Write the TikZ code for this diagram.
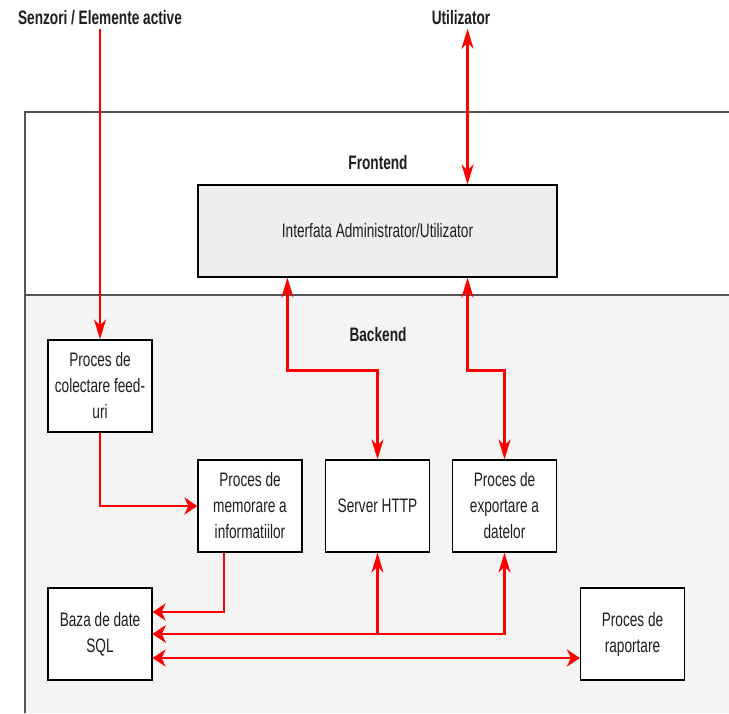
\documentclass[tikz,border=0pt]{standalone}
\usepackage{fontspec}
\setmainfont[FakeStretch=0.7]{Liberation Sans}
\usetikzlibrary{calc, arrows.meta}

\definecolor{linkred}{RGB}{255,0,0}
\definecolor{backgray}{RGB}{244,244,244}
\definecolor{framegray}{RGB}{85,85,85}
\definecolor{boxgray}{RGB}{238,238,238}
\definecolor{textgray}{RGB}{30,30,30}

\tikzset{
  vtip/.tip={Stealth[length=20pt, width=12pt, inset=6pt]},
  htip/.tip={Stealth[length=13pt, width=17pt, inset=4pt]},
  proc/.style={draw, line width=1.2pt, fill=white, minimum width=104pt, minimum height=92pt,
    align=center, text=textgray, font=\fontsize{19.5}{26}\selectfont},
  link/.style={draw=linkred, line width=2.4pt},
  heading/.style={text=textgray, font=\fontsize{19.5}{26}\selectfont\bfseries},
}

\begin{document}
\begin{tikzpicture}[x=1pt, y=-1pt]
    \useasboundingbox (0, 0) rectangle (729, 713);
    % zones
    \fill[white] (0, 0) rectangle (729, 713);
    \fill[backgray] (25, 295) rectangle (729, 713);
    \draw[framegray, line width=1.5pt] (729, 112) -- (25, 112) -- (25, 713);
    \draw[framegray, line width=1.5pt] (25, 295) -- (729, 295);
    \node[heading] (frontend) at (378, 163) {Frontend};
    \node[heading] (backend) at (378, 335) {Backend};
    % outside
    \node[heading] (senzori) at (100, 18) {Senzori / Elemente active};
    \node[heading] (utilizator) at (461, 18) {Utilizator};
    % blocks
    \node[proc, fill=boxgray, minimum width=359pt] (interfata) at (377.5, 231) {Interfata Administrator/Utilizator};
    \node[proc] (colectare) at (100, 386) {Proces de\\colectare feed-\\uri};
    \node[proc] (memorare) at (250, 506) {Proces de\\memorare a\\informatiilor};
    \node[proc] (server) at (377.5, 506) {Server HTTP};
    \node[proc] (export) at (504.5, 506) {Proces de\\exportare a\\datelor};
    \node[proc] (baza) at (100, 634) {Baza de date\\SQL};
    \node[proc] (raport) at (632.5, 634) {Proces de\\raportare};
    \coordinate (userin) at ($(interfata.north west)!0.75!(interfata.north east)$);
    % links
    \draw[link, -vtip] (senzori.south) -- (colectare.north);
    \draw[link, vtip-vtip] (utilizator.south -| userin) -- (userin);
    \draw[link, vtip-vtip] ($(interfata.south west)!0.25!(interfata.south east)$) -- ++(0, 93) -| (server.north);
    \draw[link, vtip-vtip] ($(interfata.south west)!0.75!(interfata.south east)$) -- ++(0, 93) -| (export.north);
    \draw[link, -htip] (colectare.south) |- (memorare.west);
    \draw[link, -htip] ($(memorare.south west)!0.25!(memorare.south east)$) |- ([yshift=22pt]baza.east);
    \draw[link, vtip-htip] (server.south) |- (baza.east);
    \draw[link, vtip-htip] (export.south) |- (baza.east);
    \draw[link, htip-htip] ([yshift=-24pt]baza.east) -- ([yshift=-24pt]raport.west);
\end{tikzpicture}
\end{document}
